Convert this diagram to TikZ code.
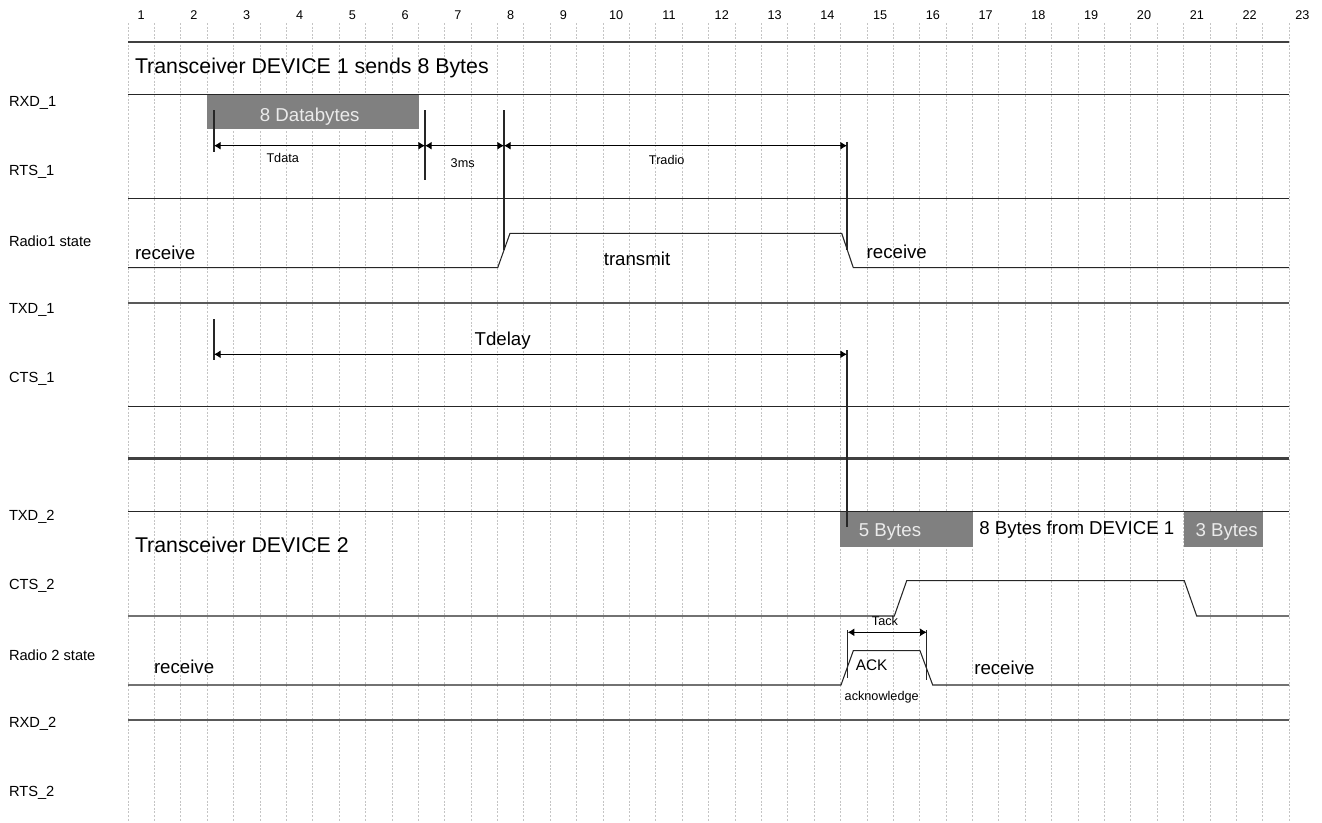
\documentclass[tikz,border=0pt]{standalone}
\usepackage{fontspec}
\setmainfont{Liberation Sans}
\usetikzlibrary{arrows.meta}
\definecolor{boxgray}{HTML}{808080}
\definecolor{sepgray}{HTML}{404040}
\definecolor{gridgray}{HTML}{C4C4C4}
\begin{document}
\begin{tikzpicture}[x=0.75pt, y=-0.75pt,
  every node/.style={inner sep=0pt, outer sep=0pt},
  gridline/.style={gridgray, line width=0.6pt, dash pattern=on 1.5pt off 1.2pt},
  sigline/.style={black!85, line width=0.8pt},
  sepline/.style={sepgray, line width=2pt},
  midline/.style={black!65, line width=1.2pt},
  tick/.style={black!85, line width=0.8pt},
  dim/.style={black, line width=0.8pt, {Latex[length=5pt,width=6pt]}-{Latex[length=5pt,width=6pt]}},
  sig/.style={font=\fontsize{11}{13}\selectfont, anchor=west},
  colnum/.style={font=\fontsize{9.5}{11}\selectfont},
  head/.style={font=\fontsize{16}{19}\selectfont, anchor=base west},
  state/.style={font=\fontsize{14}{17}\selectfont},
  small/.style={font=\fontsize{9.5}{11}\selectfont, anchor=base},
  boxtext/.style={font=\fontsize{14}{17}\selectfont, text=white!92!black, anchor=base},
]
\useasboundingbox (0,0) rectangle (1322,822);

% time grid and column numbers
\foreach \i in {0,...,44}
  \draw[gridline] ({128+26.39*\i},23) -- ({128+26.39*\i},822);
\foreach \n in {1,...,23}
  \node[colnum] (col\n) at ({141.2+52.78*(\n-1)},15.5) {\n};

% signal names
\foreach \y/\lab [count=\k] in {103/RXD\_1, 172/RTS\_1, 241/Radio1 state, 310/TXD\_1, 379/CTS\_1,
    517/TXD\_2, 586/CTS\_2, 655/Radio 2 state, 724/RXD\_2, 793/RTS\_2}
  \node[sig] (sig\k) at (9,\y) {\lab};

% data blocks
\fill[boxgray] (207,94.3) rectangle (419,129.3);
\fill[boxgray] (840,511.7) rectangle (972.7,546.7);
\fill[boxgray] (1184.3,511.7) rectangle (1262.7,546.7);

% horizontal lines
\draw[sepline] (128,42) -- (1289,42);
\draw[sigline] (128,94.3) -- (1289,94.3);
\draw[sigline] (128,198.3) -- (1289,198.3);
\draw[midline] (128,302.7) -- (1289,302.7);
\draw[sigline] (128,406.7) -- (1289,406.7);
\draw[sepline] (128,458.3) -- (1289,458.3);
\draw[sigline] (128,511.7) -- (1289,511.7);
\draw[midline] (128,720) -- (1289,720);

% waveforms
\draw[sigline] (128,267.7) -- (497.7,267.7) -- (510,233.3) -- (841.7,233.3) -- (853.3,267.7) -- (1289,267.7);
\draw[sigline] (128,616) -- (894.3,616) -- (906.7,580.7) -- (1184.3,580.7) -- (1196.7,616) -- (1289,616);
\draw[sigline] (128,685) -- (841,685) -- (853.3,650.7) -- (920,650.7) -- (932.7,685) -- (1289,685);

% timing marks
\coordinate (tA) at (214,145.7);
\coordinate (tB) at (425,145.7);
\coordinate (tC) at (504,145.7);
\coordinate (tD) at (847,145.7);
\coordinate (dA) at (214,354.3);
\coordinate (dB) at (847,354.3);
\coordinate (kA) at (847.7,632.3);
\coordinate (kB) at (926.7,632.3);
\draw[tick] (214,110) -- (214,151.7);
\draw[tick] (425,110) -- (425,180);
\draw[tick] (504,110) -- (504,250);
\draw[tick] (847,141.7) -- (847,250);
\draw[tick] (214,319) -- (214,360);
\draw[tick] (847,350) -- (847,527);
\draw[tick] (847.7,630) -- (847.7,678);
\draw[tick] (926.7,630) -- (926.7,680);
\draw[dim] (tA) -- (tB);
\draw[dim] (tB) -- (tC);
\draw[dim] (tC) -- (tD);
\draw[dim] (dA) -- (dB);
\draw[dim] (kA) -- (kB);

% texts
\node[head] (dev1) at (135,73.3) {Transceiver DEVICE 1 sends 8 Bytes};
\node[head] (dev2) at (135,552.7) {Transceiver DEVICE 2};
\node[boxtext] (db8) at (309.7,121.7) {8 Databytes};
\node[small] (ldata) at (282.7,162.7) {Tdata};
\node[small] (l3ms) at (462.7,167.3) {3ms};
\node[small] (lradio) at (666.7,164) {Tradio};
\node[state, anchor=base west] (rx1a) at (135,259.3) {receive};
\node[state, anchor=base] (tx1) at (637,265) {transmit};
\node[state, anchor=base west] (rx1b) at (866.7,258.3) {receive};
\node[state, anchor=base] (ldelay) at (502.7,345) {Tdelay};
\node[boxtext] (b5t) at (890,536.7) {5 Bytes};
\node[state, anchor=base] (from1) at (1076.8,534) {8 Bytes from DEVICE 1};
\node[boxtext] (b3t) at (1226.7,536) {3 Bytes};
\node[small] (lack) at (885,625.7) {Tack};
\node[font=\fontsize{11.5}{14}\selectfont, anchor=base] (ack) at (871.7,670.7) {ACK};
\node[small] (ackn) at (881.7,700) {acknowledge};
\node[state, anchor=base west] (rx2a) at (154,673.3) {receive};
\node[state, anchor=base west] (rx2b) at (974.3,674) {receive};
\end{tikzpicture}
\end{document}
